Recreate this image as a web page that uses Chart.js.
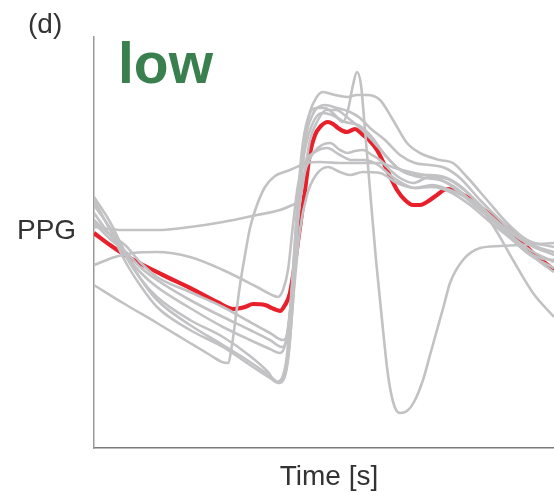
<!DOCTYPE html>
<html>
<head>
<meta charset="utf-8">
<script src="https://cdn.jsdelivr.net/npm/chart.js@4/dist/chart.umd.min.js"></script>
<style>
  html, body { margin: 0; padding: 0; background: #fff; }
  #wrap { position: relative; width: 554px; height: 496px; overflow: hidden; }
  canvas { position: absolute; left: 0; top: 0; }
  .lbl { position: absolute; font-family: "Liberation Sans", Arial, sans-serif; line-height: 1; white-space: nowrap; color: #333; }
</style>
</head>
<body>
<div id="wrap">
  <canvas id="c" width="554" height="496"></canvas>
  <div class="lbl" style="left:28px; top:10px; font-size:28px;">(d)</div>
  <div class="lbl" style="left:118px; top:35px; font-size:57px; font-weight:bold; color:#3a804e;">low</div>
  <div class="lbl" style="left:17px; top:216px; font-size:28px;">PPG</div>
  <div class="lbl" style="left:229px; width:200px; text-align:center; top:462px; font-size:28px;">Time [s]</div>
</div>
<script>
// Time (arbitrary units, 0..460) and PPG amplitude (arbitrary units)
const meanPPG = [[0,215],[16,203],[36,190],[69,173],[96,160],[123,146],[139,139],[151,141],[159,144],[171,143],[180,139],[186,137],[191,143],[196,155],[206,221],[211,258],[216,295],[221,313],[226,321],[234,326],[239,324],[244,320],[249,317],[253,316],[258,318],[261,319],[266,316],[269,313],[276,307],[283,298],[293,278],[303,258],[311,248],[319,243],[326,243],[333,246],[343,253],[353,259],[359,258],[366,255],[376,249],[386,241],[403,228],[419,215],[439,195],[460,178]];

const beat1 = [[0,251],[16,226],[31,196],[46,170],[63,148],[96,123],[129,103],[156,86],[176,72],[184,66],[189,68],[194,88],[199,148],[204,228],[209,288],[214,328],[221,348],[229,356],[241,353],[253,351],[263,353],[273,353],[286,348],[299,328],[313,305],[326,295],[346,288],[359,285],[373,271],[393,248],[413,225],[433,208],[460,201]];

const beat2 = [[0,243],[16,220],[31,193],[46,170],[63,151],[96,128],[129,111],[156,92],[174,76],[182,66],[188,70],[193,93],[198,158],[203,238],[208,298],[214,330],[222,340],[231,340],[241,333],[249,326],[254,338],[259,363],[263,376],[267,363],[271,318],[276,258],[282,188],[288,128],[294,73],[300,43],[306,35],[313,37],[320,46],[329,68],[336,93],[343,118],[350,143],[356,165],[369,188],[386,200],[406,202],[426,203],[460,205]];

const beat3 = [[0,235],[16,213],[31,194],[46,176],[63,161],[96,140],[129,121],[156,108],[176,99],[186,95],[191,103],[196,138],[201,208],[206,273],[212,313],[220,336],[231,343],[243,340],[256,336],[266,330],[276,320],[291,308],[306,293],[321,285],[336,283],[351,280],[366,270],[386,248],[406,228],[426,210],[446,200],[460,196]];

const beat4 = [[0,228],[16,213],[31,203],[46,186],[63,171],[96,156],[129,141],[156,126],[176,115],[189,108],[194,118],[199,168],[204,238],[210,293],[218,323],[228,335],[238,333],[251,326],[264,323],[276,313],[291,293],[306,278],[321,273],[336,273],[353,270],[371,258],[391,236],[411,216],[431,198],[446,190],[460,188]];

const beat5 = [[0,225],[16,209],[31,197],[46,181],[63,168],[96,148],[129,131],[156,118],[176,108],[188,101],[193,110],[198,158],[203,218],[209,268],[218,293],[228,303],[236,305],[246,298],[253,295],[261,297],[269,298],[278,293],[286,288],[296,278],[306,270],[319,265],[336,271],[353,265],[366,255],[386,238],[406,223],[426,203],[446,186],[460,176]];

const beat6 = [[0,221],[29,218],[63,218],[96,221],[129,226],[163,233],[186,238],[196,242],[203,246],[207,253],[211,278],[216,308],[224,328],[232,338],[242,338],[254,330],[266,320],[278,308],[291,293],[304,280],[318,273],[331,270],[346,268],[361,261],[376,248],[396,230],[416,213],[436,198],[460,186]];

const beat7 = [[0,183],[21,191],[39,195],[63,196],[96,191],[129,178],[163,161],[178,153],[184,151],[189,158],[194,178],[199,223],[204,263],[211,286],[221,296],[233,300],[246,293],[258,288],[271,288],[284,283],[296,273],[306,266],[321,260],[338,263],[356,258],[373,250],[386,241],[403,216],[419,188],[439,155],[460,131]];

const beat8 = [[0,163],[29,145],[63,125],[96,105],[116,93],[128,86],[134,85],[138,103],[142,133],[146,163],[151,193],[156,220],[163,243],[171,261],[181,272],[196,278],[213,285],[226,286],[246,285],[266,285],[286,285],[301,280],[316,276],[336,272],[356,268],[376,253],[396,233],[416,216],[436,203],[460,193]];

const beat9 = [[0,248],[16,218],[31,187],[46,163],[63,141],[96,118],[129,101],[156,83],[176,70],[185,65],[190,70],[195,98],[200,158],[206,218],[213,253],[222,273],[234,281],[246,276],[256,273],[269,276],[286,275],[303,265],[321,260],[338,261],[356,256],[376,243],[396,226],[416,210],[436,193],[460,180]];

const grayBeats = [beat1, beat2, beat3, beat4, beat5, beat6, beat7, beat8, beat9];

const toPts = arr => arr.map(p => ({x: p[0], y: p[1]}));

const datasets = grayBeats.map(b => ({
  data: toPts(b),
  borderColor: '#c2c2c4',
  borderWidth: 2.6,
  pointRadius: 0,
  cubicInterpolationMode: 'monotone',
  fill: false
}));
datasets.push({
  data: toPts(meanPPG),
  borderColor: '#e8202b',
  borderWidth: 4.2,
  pointRadius: 0,
  cubicInterpolationMode: 'monotone',
  fill: false
});

new Chart(document.getElementById('c'), {
  type: 'line',
  data: { datasets },
  options: {
    responsive: false,
    animation: false,
    events: [],
    layout: { padding: { left: 94, top: 37, right: 0, bottom: 48 } },
    plugins: { legend: { display: false }, tooltip: { enabled: false } },
    scales: {
      x: {
        type: 'linear', min: 0, max: 460,
        ticks: { display: false },
        grid: { display: false, drawTicks: false },
        border: { display: true, color: '#7a7a7a', width: 1.5 }
      },
      y: {
        type: 'linear', min: 0, max: 411,
        ticks: { display: false },
        grid: { display: false, drawTicks: false },
        border: { display: true, color: '#9a9a9a', width: 1.5 }
      }
    }
  }
});
</script>
</body>
</html>
